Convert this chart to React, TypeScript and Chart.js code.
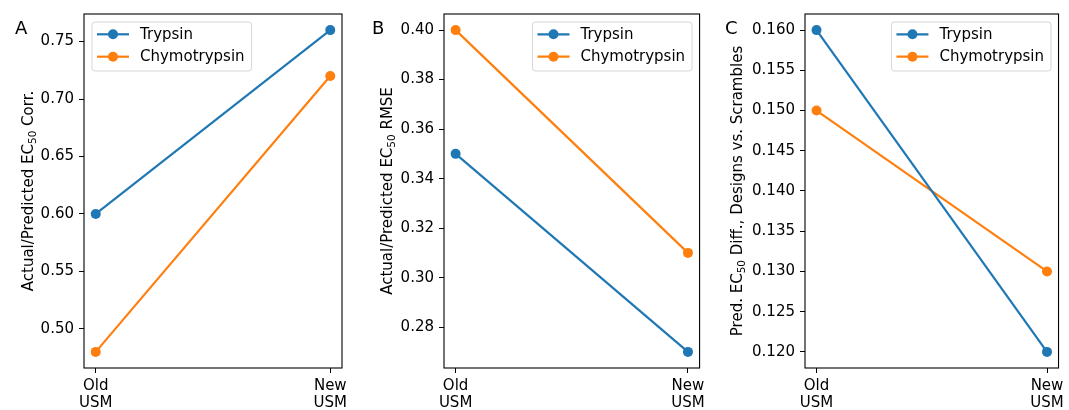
import React, { useEffect, useRef } from 'react';
import { Chart, registerables } from 'chart.js';

Chart.register(...registerables);

// ---------------- data ----------------
const categories = [
  ['Old', 'USM'],
  ['New', 'USM'],
];
const seriesNames = ['Trypsin', 'Chymotrypsin'];
const seriesColors = ['#1f77b4', '#ff7f0e'];

const corrTrypsin = [0.6, 0.76];
const corrChymotrypsin = [0.48, 0.72];
const rmseTrypsin = [0.35, 0.27];
const rmseChymotrypsin = [0.4, 0.31];
const diffTrypsin = [0.16, 0.12];
const diffChymotrypsin = [0.15, 0.13];

const corrTicks = [0.5, 0.55, 0.6, 0.65, 0.7, 0.75];
const rmseTicks = [0.28, 0.3, 0.32, 0.34, 0.36, 0.38, 0.4];
const diffTicks = [0.12, 0.125, 0.13, 0.135, 0.14, 0.145, 0.15, 0.155, 0.16];

const corrTitle = ['Actual/Predicted EC', '50', ' Corr.'];
const rmseTitle = ['Actual/Predicted EC', '50', ' RMSE'];
const diffTitle = ['Pred. EC', '50', ' Diff., Designs vs. Scrambles'];

// ---------------- layout ----------------
type Panel = {
  letter: string;
  series: number[][];
  ticks: number[];
  decimals: number;
  title: string[];
  left: number;
  width: number;
  plotLeft: number;
  plotRight: number;
  titleX: number;
  letterX: number;
  legendSide: 'left' | 'right';
};

const panels: Panel[] = [
  {
    letter: 'A', series: [corrTrypsin, corrChymotrypsin], ticks: corrTicks, decimals: 2, title: corrTitle,
    left: 0, width: 355, plotLeft: 84, plotRight: 342, titleX: 32.5, letterX: 15, legendSide: 'left',
  },
  {
    letter: 'B', series: [rmseTrypsin, rmseChymotrypsin], ticks: rmseTicks, decimals: 2, title: rmseTitle,
    left: 355, width: 355, plotLeft: 89, plotRight: 348, titleX: 37, letterX: 17, legendSide: 'right',
  },
  {
    letter: 'C', series: [diffTrypsin, diffChymotrypsin], ticks: diffTicks, decimals: 3, title: diffTitle,
    left: 710, width: 359, plotLeft: 95, plotRight: 353, titleX: 32, letterX: 15, legendSide: 'right',
  },
];

const H = 410;
const PLOT_TOP = 14;
const PLOT_BOTTOM = 368;
const FONT = '"DejaVu Sans", sans-serif';
const MARKER_R = 5;
const LINE_W = 2.2;

function rangeWithMargin(series: number[][]) {
  const all = series.flat();
  const lo = Math.min(...all);
  const hi = Math.max(...all);
  const m = (hi - lo) * 0.05;
  return { min: lo - m, max: hi + m };
}

function makeOverlay(panel: Panel) {
  return {
    id: 'overlay' + panel.letter,
    afterDraw(chart: any) {
      const ctx = chart.ctx as CanvasRenderingContext2D;
      const ca = chart.chartArea;
      ctx.save();
      // frame
      ctx.strokeStyle = '#000';
      ctx.lineWidth = 1.1;
      ctx.strokeRect(ca.left, ca.top, ca.right - ca.left, ca.bottom - ca.top);

      // legend
      ctx.font = `15px ${FONT}`;
      const tw = Math.max(...seriesNames.map((n) => ctx.measureText(n).width));
      const bw = 48 + tw + 7;
      const bh = 49;
      const bx = panel.legendSide === 'left' ? ca.left + 8 : ca.right - 7.5 - bw;
      const by = ca.top + 8;
      ctx.beginPath();
      (ctx as any).roundRect(bx, by, bw, bh, 3);
      ctx.fillStyle = 'rgba(255,255,255,0.8)';
      ctx.fill();
      ctx.strokeStyle = 'rgba(204,204,204,0.8)';
      ctx.lineWidth = 1;
      ctx.stroke();
      seriesNames.forEach((name, i) => {
        const y = by + 12.3 + i * 22.4;
        ctx.strokeStyle = seriesColors[i];
        ctx.lineWidth = LINE_W;
        ctx.beginPath();
        ctx.moveTo(bx + 5, y);
        ctx.lineTo(bx + 37, y);
        ctx.stroke();
        ctx.fillStyle = seriesColors[i];
        ctx.beginPath();
        ctx.arc(bx + 21, y, MARKER_R, 0, Math.PI * 2);
        ctx.fill();
        ctx.fillStyle = '#000';
        ctx.textAlign = 'left';
        ctx.textBaseline = 'middle';
        ctx.fillText(name, bx + 48, y + 0.5);
      });

      // y-axis title with subscript
      const [t1, sub, t3] = panel.title;
      ctx.translate(panel.titleX, (ca.top + ca.bottom) / 2);
      ctx.rotate(-Math.PI / 2);
      ctx.textBaseline = 'alphabetic';
      ctx.textAlign = 'left';
      ctx.fillStyle = '#000';
      ctx.font = `15px ${FONT}`;
      const w1 = ctx.measureText(t1).width;
      const w3 = ctx.measureText(t3).width;
      ctx.font = `10.5px ${FONT}`;
      const w2 = ctx.measureText(sub).width;
      let x = -(w1 + w2 + w3) / 2;
      ctx.font = `15px ${FONT}`;
      ctx.fillText(t1, x, 0);
      x += w1;
      ctx.font = `10.5px ${FONT}`;
      ctx.fillText(sub, x, 3);
      x += w2;
      ctx.font = `15px ${FONT}`;
      ctx.fillText(t3, x, 0);
      ctx.restore();

      // panel letter
      ctx.save();
      ctx.font = `18px ${FONT}`;
      ctx.fillStyle = '#000';
      ctx.textAlign = 'left';
      ctx.textBaseline = 'alphabetic';
      ctx.fillText(panel.letter, panel.letterX, 34);
      ctx.restore();
    },
  };
}

function PanelChart({ panel }: { panel: Panel }) {
  const ref = useRef<HTMLCanvasElement | null>(null);
  useEffect(() => {
    if (!ref.current) return;
    const yr = rangeWithMargin(panel.series);
    const chart = new Chart(ref.current, {
      type: 'line',
      data: {
        datasets: panel.series.map((vals, si) => ({
          label: seriesNames[si],
          data: vals.map((v, i) => ({ x: i, y: v })),
          borderColor: seriesColors[si],
          backgroundColor: seriesColors[si],
          pointBackgroundColor: seriesColors[si],
          pointBorderWidth: 0,
          pointRadius: MARKER_R,
          pointHoverRadius: MARKER_R,
          borderWidth: LINE_W,
          tension: 0,
          fill: false,
        })),
      },
      options: {
        animation: false,
        responsive: false,
        events: [],
        layout: {
          autoPadding: false,
          padding: { left: 0, top: PLOT_TOP, right: panel.width - panel.plotRight, bottom: 0 },
        },
        plugins: {
          legend: { display: false },
          tooltip: { enabled: false },
          title: { display: false },
        },
        scales: {
          x: {
            type: 'linear',
            min: -0.05,
            max: 1.05,
            afterBuildTicks: (s: any) => {
              s.ticks = categories.map((_, i) => ({ value: i }));
            },
            afterFit: (s: any) => {
              s.height = H - PLOT_BOTTOM;
            },
            ticks: {
              callback: (v: any) => categories[Number(v)],
              color: '#000',
              font: { family: FONT, size: 15, lineHeight: 1.12 },
              padding: 5,
              maxRotation: 0,
              autoSkip: false,
            },
            grid: { drawOnChartArea: false, drawTicks: true, tickLength: 5, color: '#000', lineWidth: 1 },
            border: { display: false },
          },
          y: {
            type: 'linear',
            min: yr.min,
            max: yr.max,
            afterBuildTicks: (s: any) => {
              s.ticks = panel.ticks.map((v) => ({ value: v }));
            },
            afterFit: (s: any) => {
              s.width = panel.plotLeft;
            },
            ticks: {
              callback: (v: any) => Number(v).toFixed(panel.decimals),
              color: '#000',
              font: { family: FONT, size: 15 },
              padding: 5,
              autoSkip: false,
            },
            grid: { drawOnChartArea: false, drawTicks: true, tickLength: 5, color: '#000', lineWidth: 1 },
            border: { display: false },
          },
        },
      },
      plugins: [makeOverlay(panel)],
    } as any);
    return () => chart.destroy();
  }, [panel]);
  return (
    <canvas
      ref={ref}
      width={panel.width}
      height={H}
      style={{ position: 'absolute', left: panel.left, top: 0, width: panel.width, height: H }}
    />
  );
}

export default function App() {
  return (
    <div
      style={{
        position: 'absolute',
        left: 0,
        top: 0,
        width: 1069,
        height: H,
        overflow: 'hidden',
        background: '#fff',
      }}
    >
      {panels.map((p) => (
        <PanelChart key={p.letter} panel={p} />
      ))}
    </div>
  );
}
